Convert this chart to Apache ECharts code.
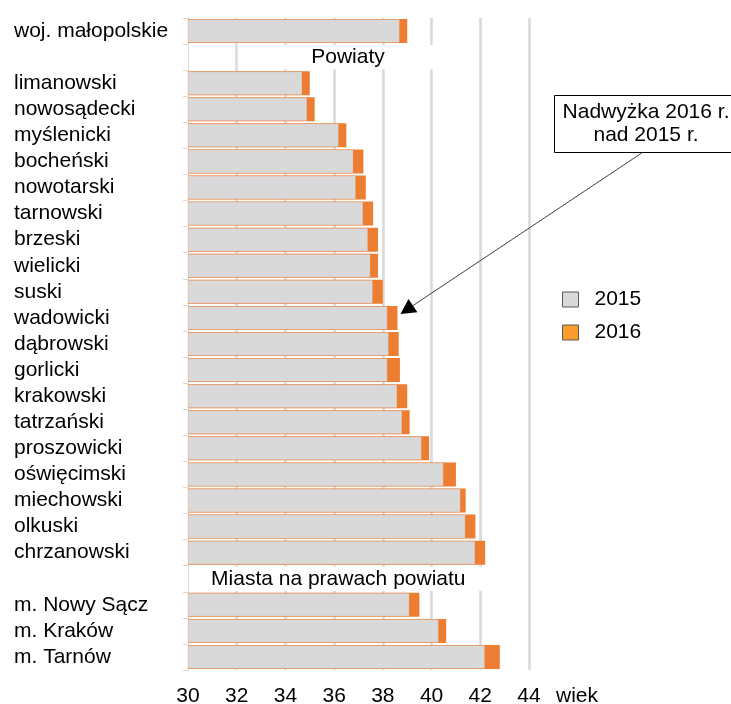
<!DOCTYPE html>
<html>
<head>
<meta charset="utf-8">
<script src="https://cdn.jsdelivr.net/npm/echarts@6/dist/echarts.min.js"></script>
<style>
  html, body { margin: 0; padding: 0; background: #fff; }
  #chart { width: 731px; height: 704px; }
</style>
</head>
<body>
<div id="chart"></div>
<script>
  // wiersze wykresu (z naglowkami sekcji)
  var categories = ['woj. małopolskie', 'Powiaty', 'limanowski', 'nowosądecki', 'myślenicki', 'bocheński',
    'nowotarski', 'tarnowski', 'brzeski', 'wielicki', 'suski', 'wadowicki', 'dąbrowski', 'gorlicki',
    'krakowski', 'tatrzański', 'proszowicki', 'oświęcimski', 'miechowski', 'olkuski', 'chrzanowski',
    'Miasta na prawach powiatu', 'm. Nowy Sącz', 'm. Kraków', 'm. Tarnów'];
  var headers = ['Powiaty', 'Miasta na prawach powiatu'];
  var values2015 = [38.7, null, 34.7, 34.9, 36.2, 36.8, 36.9, 37.2, 37.4, 37.5, 37.6, 38.2, 38.25, 38.2,
    38.6, 38.8, 39.6, 40.5, 41.2, 41.4, 41.8, null, 39.1, 40.3, 42.2];
  var values2016 = [39.0, null, 35.0, 35.2, 36.5, 37.2, 37.3, 37.6, 37.8, 37.8, 38.0, 38.6, 38.65, 38.7,
    39.0, 39.1, 39.9, 41.0, 41.4, 41.8, 42.2, null, 39.5, 40.6, 42.8];
  var xTicks = [30, 32, 34, 36, 38, 40, 42, 44];

  var font = 'Liberation Sans, Arial, sans-serif';
  var fs = 21;
  var chart = echarts.init(document.getElementById('chart'));

  chart.setOption({
    animation: false,
    textStyle: { fontFamily: font },
    grid: { left: 188, right: 202, top: 18, bottom: 34, containLabel: false, outerBoundsMode: 'none' },
    legend: {
      orient: 'vertical',
      left: 562,
      top: 289,
      padding: 0,
      itemWidth: 16,
      itemHeight: 15,
      itemGap: 12,
      icon: 'rect',
      textStyle: { fontSize: fs, color: '#000', lineHeight: 21, padding: [0, 0, 0, 11] },
      data: [
        { name: '2015', itemStyle: { color: '#d9d9d9', borderColor: '#595959', borderWidth: 1 } },
        { name: '2016', itemStyle: { color: '#f99c2c', borderColor: '#595959', borderWidth: 1 } }
      ]
    },
    xAxis: {
      type: 'value',
      min: xTicks[0],
      max: xTicks[xTicks.length - 1],
      interval: 2,
      name: 'wiek',
      nameLocation: 'end',
      nameGap: 27,
      nameTextStyle: { fontSize: fs, color: '#000', verticalAlign: 'top', padding: [16, 0, 0, 0] },
      axisLine: { show: false },
      axisTick: { show: false },
      axisLabel: { fontSize: fs, color: '#000', margin: 16 },
      splitLine: { show: true, showMinLine: false, lineStyle: { color: '#d9d9d9', width: 2.5 } }
    },
    yAxis: {
      type: 'category',
      inverse: true,
      data: categories,
      axisLine: { show: true, lineStyle: { color: '#d9d9d9' } },
      axisTick: { show: true, length: 5, lineStyle: { color: '#d9d9d9' } },
      axisLabel: {
        interval: 0,
        hideOverlap: false,
        align: 'left',
        margin: 174,
        fontSize: fs,
        lineHeight: 21,
        color: '#000',
        formatter: function (v) { return headers.indexOf(v) >= 0 ? '' : v; }
      }
    },
    series: [
      {
        name: '2016',
        type: 'bar',
        data: values2016,
        barCategoryGap: '8%',
        itemStyle: { color: '#ed7d31' },
        silent: true
      },
      {
        name: '2015',
        type: 'bar',
        data: values2015,
        barGap: '-100%',
        barCategoryGap: '8%',
        itemStyle: { color: '#d9d9d9', borderColor: 'rgba(237,125,49,0.25)', borderWidth: 1 },
        silent: true
      }
    ]
  });

  // naglowki sekcji, ramka z opisem i strzalka
  function px(x, cat) {
    return chart.convertToPixel({ gridIndex: 0 }, [x, cat]);
  }
  var band = px(30, 1)[1] - px(30, 0)[1];
  var p1a = px(32, 'Powiaty'), p1b = px(41.2, 'Powiaty'), p1t = px(36.57, 'Powiaty');
  var p2a = px(30, 'Miasta na prawach powiatu'), p2b = px(42.5, 'Miasta na prawach powiatu'),
      p2t = px(36.17, 'Miasta na prawach powiatu');

  var tip = px(38.6, 'wadowicki');
  tip = [tip[0] + 3, tip[1] - 4];
  var start = [641.7, 153];
  var dx = start[0] - tip[0], dy = start[1] - tip[1];
  var len = Math.sqrt(dx * dx + dy * dy);
  var ux = dx / len, uy = dy / len;
  var hl = 15, hw = 8;
  var bx = tip[0] + ux * hl, by = tip[1] + uy * hl;

  chart.setOption({
    graphic: [
      { type: 'rect', shape: { x: p1a[0] + 1.5, y: p1a[1] - band / 2 + 1, width: p1b[0] - p1a[0] - 1.5, height: band - 2 },
        style: { fill: '#fff' }, z: 10 },
      { type: 'text', x: p1t[0], y: p1t[1], z: 11,
        style: { text: 'Powiaty', font: fs + 'px ' + font, fill: '#000', align: 'center', verticalAlign: 'middle' } },
      { type: 'rect', shape: { x: p2a[0] + 1, y: p2a[1] - band / 2 + 1, width: p2b[0] - p2a[0] - 1, height: band - 2 },
        style: { fill: '#fff' }, z: 10 },
      { type: 'text', x: p2t[0], y: p2t[1], z: 11,
        style: { text: 'Miasta na prawach powiatu', font: fs + 'px ' + font, fill: '#000', align: 'center', verticalAlign: 'middle' } },
      { type: 'rect', shape: { x: 554.5, y: 95.5, width: 190, height: 57 }, z: 10,
        style: { fill: '#fff', stroke: '#000', lineWidth: 1 } },
      { type: 'text', x: 646, y: 124, z: 11,
        style: { text: 'Nadwyżka 2016 r.\nnad 2015 r.', font: fs + 'px ' + font, lineHeight: 23, fill: '#000',
          align: 'center', verticalAlign: 'middle' } },
      { type: 'line', z: 12, shape: { x1: start[0], y1: start[1], x2: bx, y2: by },
        style: { stroke: '#404040', lineWidth: 1 } },
      { type: 'polygon', z: 12,
        shape: { points: [tip, [bx + uy * hw, by - ux * hw], [bx - uy * hw, by + ux * hw]] },
        style: { fill: '#000' } }
    ]
  });
</script>
</body>
</html>
